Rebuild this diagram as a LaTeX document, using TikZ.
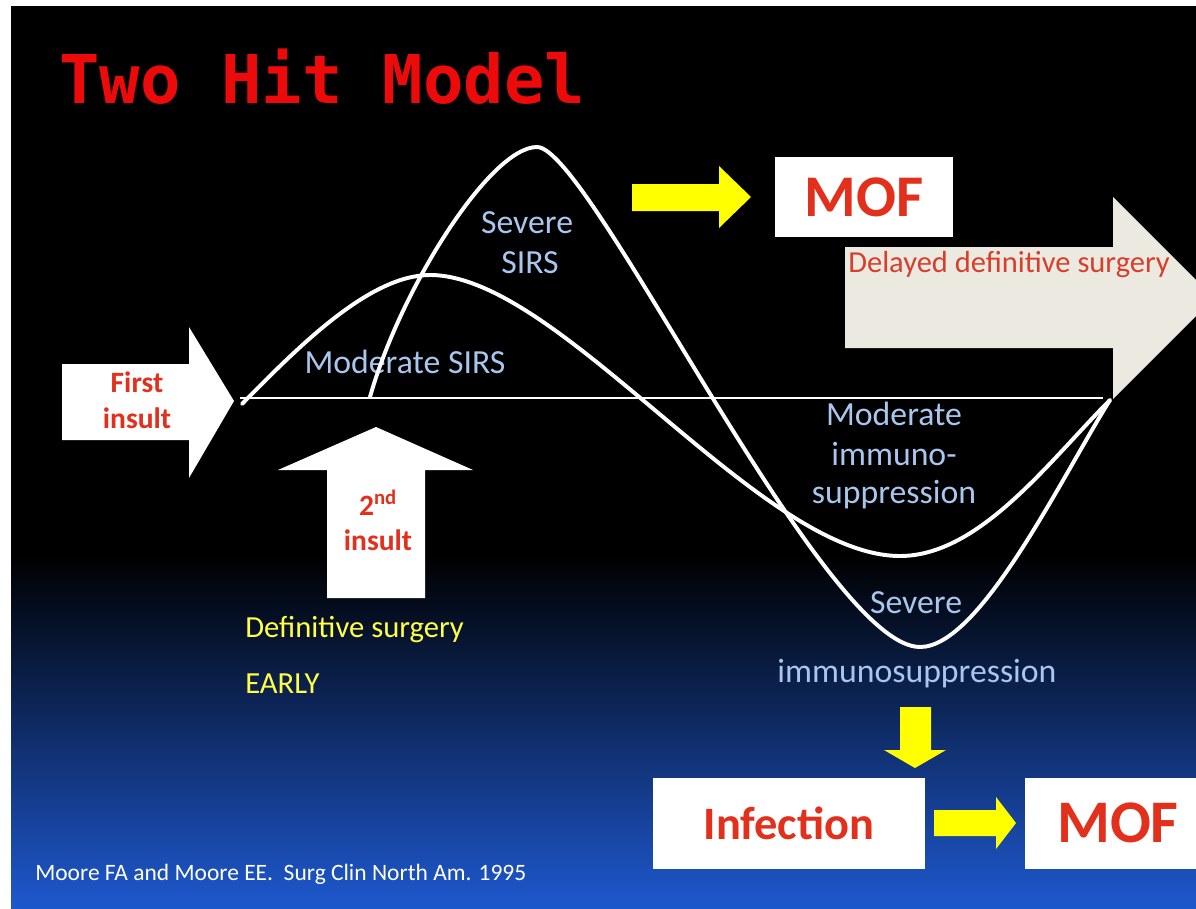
\documentclass[tikz,border=0pt]{standalone}
\usepackage{fontspec}
\setmainfont{Carlito}
\newfontfamily\headfont{DejaVu Sans Mono}
\definecolor{headred}{RGB}{236,10,10}
\definecolor{boxred}{RGB}{226,48,28}
\definecolor{lightred}{RGB}{216,62,44}
\definecolor{skyblue}{RGB}{168,198,238}
\definecolor{signyellow}{RGB}{255,255,0}
\definecolor{txtyellow}{RGB}{255,255,70}
\definecolor{sand}{RGB}{236,233,224}
\definecolor{slideblue}{RGB}{30,88,206}

\tikzset{
  bluetxt/.style={text=skyblue, font=\fontsize{24}{28}\selectfont, anchor=base, inner sep=0pt},
  redtxt/.style={text=boxred, font=\bfseries\fontsize{21}{26}\selectfont, anchor=base, inner sep=0pt},
  yellowtxt/.style={text=txtyellow, font=\fontsize{21.8}{26}\selectfont, anchor=base west, inner sep=0pt},
  whitebox/.style={fill=white, inner sep=0pt, text=boxred, font=\bfseries\fontsize{#1}{#1}\selectfont},
  curve/.style={white, line width=2.8pt, line cap=round, line join=round},
}

\begin{document}
\begin{tikzpicture}[x=0.025cm, y=-0.025cm]
\useasboundingbox (0,0) rectangle (1196,908);
\clip (0,0) rectangle (1196,908);
% slide background
\fill[white] (0,0) rectangle (1196,908);
\fill[black] (11,6) rectangle (1196,556);
\shade[top color=black, bottom color=slideblue] (11,555) rectangle (1196,908);

% title
\node[anchor=base west, inner sep=0pt, text=headred, font=\headfont\bfseries\fontsize{47.8}{52}\selectfont] (title) at (59,103) {Two Hit Model};

% block arrows
\fill[white] (62,364) -- (189,364) -- (189,327) -- (234,401) -- (189,478) -- (189,440) -- (62,440) -- cycle;
\fill[white] (327,598) -- (327,470) -- (278,470) -- (376,427) -- (473,470) -- (425,470) -- (425,598) -- cycle;
\fill[sand] (845,247) -- (1113,247) -- (1113,197) -- (1214,298) -- (1113,399) -- (1113,348) -- (845,348) -- cycle;
\fill[signyellow] (632,184) -- (719,184) -- (719,166) -- (751,197) -- (719,228) -- (719,211) -- (632,211) -- cycle;
\fill[signyellow] (900,707) -- (931,707) -- (931,750) -- (946,750) -- (915,768) -- (884,750) -- (900,750) -- cycle;
\fill[signyellow] (934,810) -- (996,810) -- (996,797) -- (1016,823) -- (996,849) -- (996,836) -- (934,836) -- cycle;

% boxes
\node[whitebox=42, minimum width=178*0.025cm, minimum height=80*0.025cm] (mofA) at (864,197) {MOF};
\node[whitebox=33, minimum width=272*0.025cm, minimum height=91*0.025cm] (infect) at (789,823) {Infection};
\node[whitebox=43, minimum width=186*0.025cm, minimum height=91*0.025cm] (mofB) at (1118,823) {MOF};

% labels
\node[redtxt] (first) at (137,392) {First};
\node[redtxt] (firstB) at (137,428) {insult};
\node[redtxt] (second) at (378,515) {2\textsuperscript{nd}};
\node[redtxt] (secondB) at (378,550) {insult};
\node[anchor=base west, inner sep=0pt, text=lightred, font=\fontsize{21.7}{26}\selectfont] (delayed) at (848,272) {Delayed definitive surgery};
\node[yellowtxt] (early) at (245,637) {Definitive surgery};
\node[yellowtxt] (earlyB) at (245,693) {EARLY};
\node[bluetxt] (modsirs) at (405,373) {Moderate SIRS};
\node[bluetxt] (sevsirs) at (527,233) {Severe};
\node[bluetxt] (sevsirsB) at (530,273) {SIRS};
\node[bluetxt] (modimm) at (894,425) {Moderate};
\node[bluetxt] (modimmB) at (894,465) {immuno-};
\node[bluetxt] (modimmC) at (894,503) {suppression};
\node[bluetxt] (sevimm) at (916,613) {Severe};
\node[bluetxt] (sevimmB) at (917,682) {immunosuppression};
\node[anchor=base west, inner sep=0pt, text=white, font=\fontsize{16.7}{20}\selectfont] (cite) at (35,880) {Moore FA and Moore EE.\ \ Surg Clin North Am. 1995};

% baseline and response curves
\coordinate (start) at (240,398);
\coordinate (finish) at (1103,398);
\coordinate (hitA) at (242,404);
\coordinate (hitB) at (370,397);
\coordinate (recover) at (1110,400);
\draw[white, line width=1pt] (start) -- (finish);
% moderate SIRS
\draw[curve] (hitA) .. controls (300,345) and (370,275) .. (430,275)
  .. controls (560,275) and (760,556) .. (900,556)
  .. controls (980,556) and (1050,460) .. (recover);
% severe SIRS
\draw[curve] (hitB) .. controls (400,290) and (490,147) .. (537,147)
  .. controls (590,147) and (823,647) .. (920,647)
  .. controls (980,647) and (1060,480) .. (recover);
\end{tikzpicture}
\end{document}
